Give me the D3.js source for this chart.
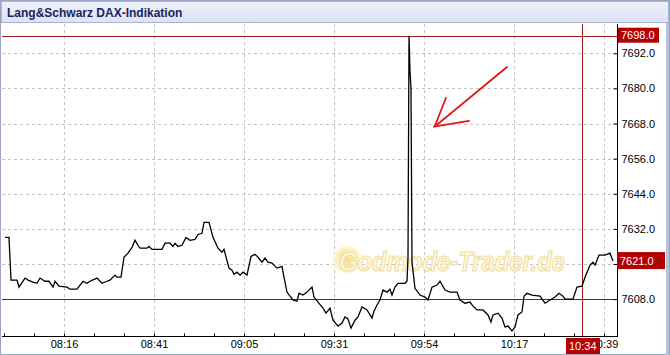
<!DOCTYPE html>
<html>
<head>
<meta charset="utf-8">
<script src="https://cdn.jsdelivr.net/npm/d3@7"></script>
<style>
 html,body{margin:0;padding:0;background:#fff;}
 svg{display:block;}
</style>
</head>
<body>
<div id="chart"></div>
<script>
// bar number (one per tick slot) and price
var bars=[1,5,7,13,15,21,24,29,33,36,41,45,49,51,55,63,66,73,79,83,86,93,98,103,106,111,113,117,120,124,128,131,134,136,143,145,148,158,161,166,169,171,174,178,182,186,191,194,198,200,205,209,214,218,220,225,228,230,233,236,239,243,247,251,254,258,261,264,268,273,278,279,283,286,289,293,295,299,303,308,310,314,319,322,326,329,334,338,341,344,347,351,354,358,363,368,370,373,376,379,383,386,388,391,394,401,403,404,405,406,407,408,411,416,421,424,428,433,436,441,446,453,456,461,466,469,473,479,484,487,489,494,498,501,504,508,511,514,518,520,523,528,536,541,546,551,555,559,561,569,573,578,581,586,589,591,595,601,606,609];
var prices=[7629.1,7629.1,7614.5,7614.5,7612.1,7615.2,7614.5,7613.8,7613.4,7615.2,7614.1,7614.1,7612.1,7614.1,7612.4,7612.1,7611.4,7611.4,7614.1,7613.4,7614.1,7615.2,7613.4,7614.1,7614.5,7616.2,7615.5,7615.5,7622.3,7623.7,7625.7,7628.1,7626.4,7625.4,7625.4,7626.0,7625.0,7625.0,7627.1,7627.1,7626.0,7627.1,7626.0,7626.4,7629.1,7628.1,7628.4,7630.1,7630.5,7634.2,7634.2,7629.1,7625.4,7624.0,7625.0,7618.6,7617.9,7616.5,7617.2,7616.2,7617.2,7616.2,7622.6,7623.3,7622.3,7620.6,7622.0,7620.6,7620.3,7618.6,7619.2,7617.2,7610.4,7609.0,7607.7,7607.3,7610.0,7609.4,7610.4,7612.1,7608.7,7607.0,7604.9,7603.2,7604.9,7600.8,7598.8,7599.8,7601.9,7601.2,7598.1,7600.8,7601.9,7605.3,7604.3,7601.5,7603.9,7606.0,7607.7,7611.1,7610.4,7611.4,7609.4,7612.1,7613.4,7613.4,7614.1,7622.3,7698.0,7686.0,7679.8,7620.6,7611.7,7609.4,7608.7,7607.7,7612.1,7612.8,7614.1,7611.1,7610.4,7610.4,7607.7,7606.6,7607.0,7605.6,7604.3,7604.3,7602.6,7600.2,7602.6,7603.2,7601.5,7598.5,7598.8,7597.1,7598.5,7602.6,7603.6,7609.0,7610.0,7609.4,7609.0,7606.6,7607.7,7608.7,7610.0,7609.0,7608.0,7608.0,7612.1,7612.4,7615.5,7619.6,7620.6,7619.6,7623.0,7623.0,7623.7,7621.0];

var timeTicks=[60,150,240,330,420,510,600];
var timeLabels=["08:16","08:41","09:05","09:31","09:54","10:17","10:39"];
var priceTicks=[7608,7620,7632,7644,7656,7668,7680,7692];
var hiddenPriceLabels=[7620];   // covered by the last-price badge
var refPrice=7608;      // blue reference line
var highPrice=7698;     // session high
var lastPrice=7621;     // last quote
var cursorBar=578, cursorLabel="10:34";
// hand-drawn arrow, in (bar, price)
var arrowTail=[503,7687.3], arrowTip=[430,7666.9], arrowWing1=[442,7676.8], arrowWing2=[465,7668.9];

(function(){
 var W=670,H=355;
 var svg=d3.select("#chart").append("svg").attr("width",W).attr("height",H)
  .style("font-family","'Liberation Sans',Arial,sans-serif");
 var defs=svg.append("defs");

 var pL=2,pR=617,pT=24,pB=336;
 var x=d3.scaleLinear().domain([0,610]).range([4,614]);
 var y=d3.scaleLinear().domain([7595.4,7702]).range([pB,pT]);
 var px=function(v){return Math.round(v)+0.5;};

 // frame + title bar
 svg.append("rect").attr("x",0.5).attr("y",0.5).attr("width",W-1).attr("height",H-1)
  .attr("fill","#fff").attr("stroke","#9aa6c4");
 var grad=defs.append("linearGradient").attr("id","tb").attr("x1",0).attr("x2",0).attr("y1",0).attr("y2",1);
 grad.append("stop").attr("offset","0%").attr("stop-color","#eef1fa");
 grad.append("stop").attr("offset","100%").attr("stop-color","#dde3f3");
 svg.append("rect").attr("x",1.5).attr("y",1.5).attr("width",W-3).attr("height",21)
  .attr("fill","url(#tb)").attr("stroke","#a9b4d0");
 svg.append("text").attr("x",7).attr("y",17).attr("font-size",12).attr("font-weight","bold")
  .attr("fill","#1b1f5e").text("Lang&Schwarz DAX-Indikation");
 svg.append("line").attr("x1",W-2.5).attr("x2",W-2.5).attr("y1",23).attr("y2",H).attr("stroke","#b6c0dc").attr("stroke-width",3);

 // grid
 svg.append("g").selectAll("line").data(timeTicks).join("line")
  .attr("x1",d=>px(x(d))).attr("x2",d=>px(x(d)))
  .attr("y1",pT).attr("y2",pB)
  .attr("stroke","#c4c4c4").attr("stroke-dasharray","3,3");
 svg.append("g").selectAll("line").data(priceTicks).join("line")
  .attr("x1",pL).attr("x2",pR)
  .attr("y1",d=>px(y(d))).attr("y2",d=>px(y(d)))
  .attr("stroke","#c4c4c4").attr("stroke-dasharray","3,3");

 // watermark
 var rg=defs.append("radialGradient").attr("id","sun");
 rg.append("stop").attr("offset","0%").attr("stop-color","#f8e08a");
 rg.append("stop").attr("offset","65%").attr("stop-color","#fcefc0");
 rg.append("stop").attr("offset","100%").attr("stop-color","#ffffff").attr("stop-opacity",0);
 svg.append("circle").attr("cx",x(343)).attr("cy",y(7621.5)).attr("r",17).attr("fill","url(#sun)");
 svg.append("text").attr("x",x(335)).attr("y",y(7617.5)).attr("font-size",27).attr("font-weight","bold")
  .attr("font-style","italic").attr("fill","#fff8dc").attr("stroke","#eedfa6").attr("stroke-width",1.2)
  .attr("textLength",226).attr("lengthAdjust","spacingAndGlyphs")
  .text("Godmode-Trader.de");

 // reference, high and cursor lines
 svg.append("line").attr("x1",pL).attr("x2",pR).attr("y1",px(y(refPrice))).attr("y2",px(y(refPrice)))
  .attr("stroke","#2a2aa2").attr("stroke-width",1.2);
 svg.append("line").attr("x1",pL).attr("x2",pR).attr("y1",px(y(highPrice))).attr("y2",px(y(highPrice)))
  .attr("stroke","#9a1c1c");
 svg.append("line").attr("x1",px(x(cursorBar))).attr("x2",px(x(cursorBar))).attr("y1",pT).attr("y2",pB)
  .attr("stroke","#9a1c1c");

 // price line
 svg.append("path").datum(d3.zip(bars,prices))
  .attr("d",d3.line().x(d=>x(d[0])).y(d=>y(d[1])))
  .attr("fill","none").attr("stroke","#000").attr("stroke-width",1.3);

 // red hand-drawn arrow
 var ar=svg.append("g").attr("stroke","#e01818").attr("stroke-width",1.8).attr("stroke-linecap","round");
 ar.append("line").attr("x1",x(arrowTail[0])).attr("y1",y(arrowTail[1])).attr("x2",x(arrowTip[0])+3).attr("y2",y(arrowTip[1])-2);
 ar.append("line").attr("x1",x(arrowWing1[0])).attr("y1",y(arrowWing1[1])).attr("x2",x(arrowTip[0])+1).attr("y2",y(arrowTip[1])-1);
 ar.append("line").attr("x1",x(arrowTip[0])).attr("y1",y(arrowTip[1])).attr("x2",x(arrowWing2[0])).attr("y2",y(arrowWing2[1]));

 // axes
 var ay=d3.axisRight(y).tickValues(priceTicks).tickSize(0).tickPadding(4)
  .tickFormat(d=>hiddenPriceLabels.indexOf(d)>=0?"":d3.format(".1f")(d));
 var gy=svg.append("g").attr("transform","translate("+(pR+0.5)+",0)").call(ay);
 gy.select(".domain").attr("d","M0,"+pT+"V"+pB).attr("stroke","#000");
 gy.selectAll("text").attr("font-size",11).attr("fill","#000").attr("font-family","'Liberation Sans',Arial,sans-serif");
 gy.selectAll(".tick").append("line").attr("x1",-4).attr("x2",0).attr("stroke","#000");

 var ax=d3.axisBottom(x).tickValues(timeTicks).tickSize(0).tickPadding(4).tickFormat((d,i)=>timeLabels[i]);
 var gx=svg.append("g").attr("transform","translate(0,"+(pB+0.5)+")").call(ax);
 gx.select(".domain").attr("d","M"+pL+",0H"+(pR+1)).attr("stroke","#000");
 gx.selectAll("text").attr("font-size",11).attr("fill","#000").attr("font-family","'Liberation Sans',Arial,sans-serif");
 gx.selectAll(".minor").data(d3.range(0,611,30)).join("line").attr("class","minor")
  .attr("x1",d=>px(x(d))).attr("x2",d=>px(x(d))).attr("y1",-3).attr("y2",0).attr("stroke","#000");

 // value badges
 function badge(bx,by,w,h,txt){
  svg.append("rect").attr("x",bx).attr("y",by).attr("width",w).attr("height",h).attr("fill","#b30000");
  svg.append("text").attr("x",bx+3).attr("y",by+h/2+4).attr("font-size",11).attr("fill","#fff").text(txt);
 }
 badge(pR+1,y(highPrice)-8,41,15,d3.format(".1f")(highPrice));
 badge(pR,y(lastPrice)-9,48,17,d3.format(".1f")(lastPrice));
 badge(x(cursorBar)-16,pB+2,34,16,cursorLabel);
})();
</script>
</body>
</html>
